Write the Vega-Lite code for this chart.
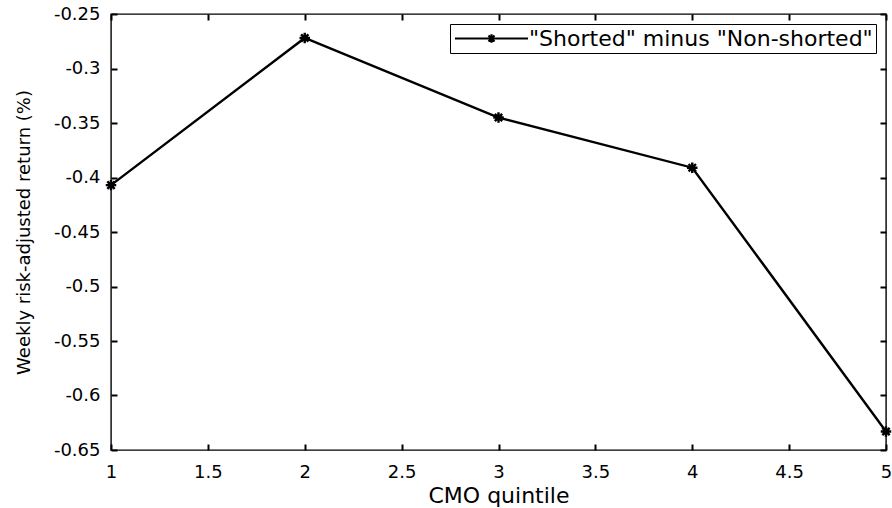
{
  "$schema": "https://vega.github.io/schema/vega-lite/v6.json",
  "width": 775,
  "height": 436,
  "autosize": "none",
  "padding": {"left": 111, "top": 14, "right": 6, "bottom": 58},
  "background": "white",
  "config": {
    "view": {"stroke": "black", "strokeWidth": 1.4},
    "font": "DejaVu Sans",
    "axis": {
      "grid": false,
      "domain": false,
      "ticks": true,
      "zindex": 1,
      "offset": -6,
      "tickColor": "black",
      "tickWidth": 2,
      "tickSize": 6,
      "tickOpacity": 1,
      "labelColor": "black",
      "labelFont": "DejaVu Sans",
      "labelFontSize": 18,
      "titleColor": "black",
      "titleFont": "DejaVu Sans",
      "titleFontWeight": "normal",
      "labelFlush": false,
      "labelOverlap": false
    }
  },
  "data": {
    "values": [
      {"quintile": 1, "ret": -0.407, "series": "\"Shorted\" minus \"Non-shorted\""},
      {"quintile": 2, "ret": -0.272, "series": "\"Shorted\" minus \"Non-shorted\""},
      {"quintile": 3, "ret": -0.345, "series": "\"Shorted\" minus \"Non-shorted\""},
      {"quintile": 4, "ret": -0.391, "series": "\"Shorted\" minus \"Non-shorted\""},
      {"quintile": 5, "ret": -0.633, "series": "\"Shorted\" minus \"Non-shorted\""}
    ]
  },
  "layer": [
    {
      "mark": {"type": "line", "color": "black", "strokeWidth": 2.4},
      "encoding": {
        "x": {
          "field": "quintile", "type": "quantitative",
          "scale": {"domain": [1, 5], "nice": false, "zero": false},
          "axis": {
            "orient": "bottom",
            "values": [1, 1.5, 2, 2.5, 3, 3.5, 4, 4.5, 5],
            "labelExpr": "datum.value + ''",
            "labelPadding": 13,
            "title": "CMO quintile",
            "titleFontSize": 22,
            "titleX": 387.5,
            "titleY": 58,
            "titleAlign": "center",
            "titleBaseline": "alphabetic"
          }
        },
        "y": {
          "field": "ret", "type": "quantitative",
          "scale": {"domain": [-0.65, -0.25], "nice": false, "zero": false},
          "axis": {
            "orient": "left",
            "values": [-0.65, -0.6, -0.55, -0.5, -0.45, -0.4, -0.35, -0.3, -0.25],
            "labelExpr": "datum.value + ''",
            "labelPadding": 11,
            "title": "Weekly risk-adjusted return (%)",
            "titleFontSize": 18,
            "titleAngle": -90,
            "titleX": -93,
            "titleY": 218,
            "titleAlign": "center",
            "titleBaseline": "middle"
          }
        },
        "color": {
          "field": "series", "type": "nominal",
          "scale": {"range": ["black"]},
          "legend": {
            "title": null,
            "orient": "top-right",
            "offset": 10,
            "strokeColor": "black",
            "fillColor": "white",
            "padding": 3,
            "labelFont": "DejaVu Sans",
            "labelFontSize": 22,
            "labelColor": "black",
            "labelLimit": 0,
            "symbolType": "M-3.65,0L3.65,0M-0.3,-0.3L0.3,0.3M-0.3,0.3L0.3,-0.3M0,-0.42L0,0.42M-0.42,0L0.42,0",
            "symbolSize": 400,
            "symbolOffset": 27,
            "labelOffset": 26,
            "symbolStrokeWidth": 2.2,
            "symbolStrokeColor": "black",
            "symbolFillColor": "black"
          }
        }
      }
    },
    {
      "mark": {
        "type": "point",
        "shape": "M-1,0L1,0M0,-1L0,1M-0.7,-0.7L0.7,0.7M-0.7,0.7L0.7,-0.7",
        "size": 110,
        "filled": false,
        "strokeWidth": 2.4,
        "color": "black",
        "opacity": 1
      },
      "encoding": {
        "x": {
          "field": "quintile", "type": "quantitative",
          "axis": {
            "orient": "top",
            "values": [1, 1.5, 2, 2.5, 3, 3.5, 4, 4.5, 5],
            "labels": false,
            "title": null
          }
        },
        "y": {
          "field": "ret", "type": "quantitative",
          "axis": {
            "orient": "right",
            "values": [-0.65, -0.6, -0.55, -0.5, -0.45, -0.4, -0.35, -0.3, -0.25],
            "labels": false,
            "title": null
          }
        }
      }
    }
  ],
  "resolve": {"axis": {"x": "independent", "y": "independent"}}
}
